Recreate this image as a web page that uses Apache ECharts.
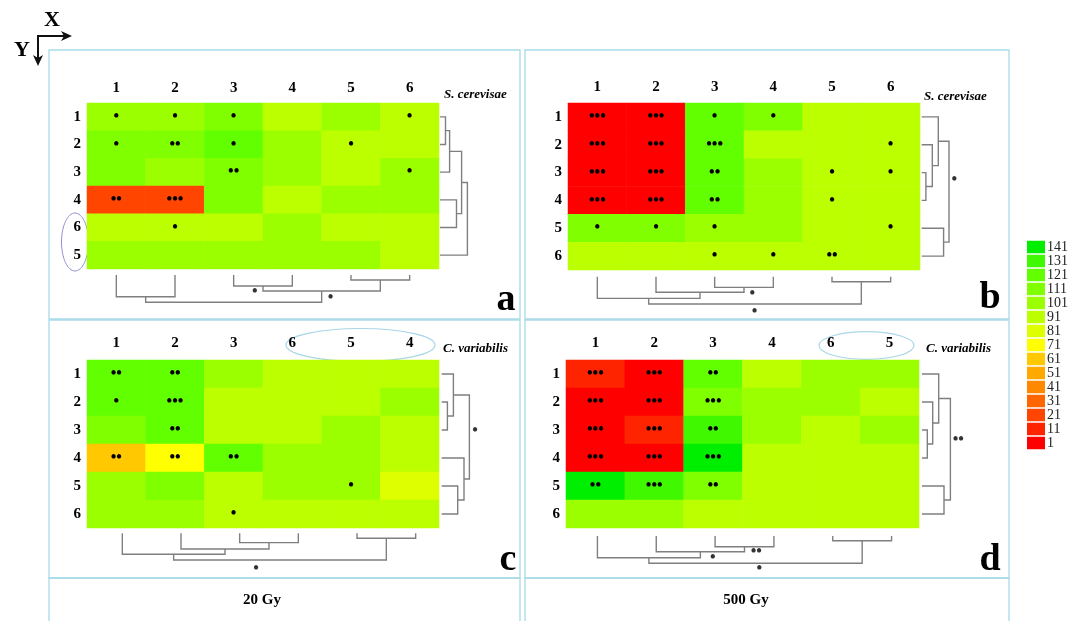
<!DOCTYPE html>
<html><head><meta charset="utf-8">
<script src="https://cdn.jsdelivr.net/npm/echarts@6/dist/echarts.min.js"></script>
<style>html,body{margin:0;padding:0;background:#fff}#c{width:1077px;height:621px}</style>
</head><body><div id="c"></div>
<script>
// ---------- DATA ----------
const legendLevels = [1, 11, 21, 31, 41, 51, 61, 71, 81, 91, 101, 111, 121, 131, 141];
const legendColors = ['#ff0000','#ff2400','#ff4500','#ff6600','#ff8800','#ffa800','#ffc800','#ffff00','#ddff00','#bbff00','#9cff00','#80ff00','#62ff00','#40f800','#00ee00'];
const dotText = ['', '\u2022', '\u2022\u2022', '\u2022\u2022\u2022'];

// Panel a: S. cerevisae, 20 Gy
const aCols = ['1','2','3','4','5','6'];
const aRows = ['1','2','3','4','6','5'];
const aValues = [
  [105,105,115, 96,105, 96],
  [115,115,125,105, 96, 96],
  [115,105,115,105, 96,105],
  [ 25, 25,115, 96,105,105],
  [ 96, 96, 96,105, 96, 96],
  [105,105,105,105,105, 96]
];
const aSig = [
  [1,1,1,0,0,1],
  [1,2,1,0,1,0],
  [0,0,2,0,0,1],
  [2,3,0,0,0,0],
  [0,1,0,0,0,0],
  [0,0,0,0,0,0]
];
const aColTree = [[4,5,5],[2,3,11],['n1','n0',16],[0,1,21.7],['n3','n2',27.3]];
const aRowTree = [[0,1,5.5],['n0',2,9.6],[3,4,16.5],['n1','n2',21.6],['n3',5,27.4]];
const aColMarks = [[2.36,16.7,'\u2022'],[3.65,22.7,'\u2022']];
const aRowMarks = [];

// Panel b: S. cerevisae, 500 Gy
const bCols = ['1','2','3','4','5','6'];
const bRows = ['1','2','3','4','5','6'];
const bValues = [
  [  5,  5,125,115, 96, 96],
  [  5,  5,125, 96, 96, 96],
  [  5,  5,125,105, 96, 96],
  [  5,  5,125,105, 96, 96],
  [115,115,105,105, 96, 96],
  [ 96, 96, 96, 96, 96, 96]
];
const bSig = [
  [3,3,1,1,0,0],
  [3,3,3,0,0,1],
  [3,3,2,0,1,1],
  [3,3,2,0,1,0],
  [1,1,1,0,0,1],
  [0,0,1,1,2,0]
];
const bColTree = [[4,5,5],[2,3,10.7],[1,'n1',15.6],[0,'n2',21.7],['n3','n0',27.3]];
const bRowTree = [[2,3,4.2],[1,'n0',10.6],[0,'n1',16.6],[4,5,21.9],['n2','n3',27.3]];
const bColMarks = [[2.64,17.3,'\u2022'],[2.68,35,'\u2022']];
const bRowMarks = [[32.6,2.27,'\u2022']];

// Panel c: C. variabilis, 20 Gy
const cCols = ['1','2','3','6','5','4'];
const cRows = ['1','2','3','4','5','6'];
const cValues = [
  [125,125,105, 96, 96, 96],
  [125,125, 96, 96, 96,105],
  [115,125, 96, 96,105, 96],
  [ 65, 75,125,105,105, 96],
  [105,115, 96,105,105, 85],
  [105,105, 96, 96, 96, 96]
];
const cSig = [
  [2,2,0,0,0,0],
  [1,3,0,0,0,0],
  [0,2,0,0,0,0],
  [2,2,2,0,0,0],
  [0,0,0,0,1,0],
  [0,0,1,0,0,0]
];
const cColTree = [[2,3,9.3],[4,5,5],[1,'n0',15.7],[0,'n2',21],['n3','n1',26.7]];
const cRowTree = [[1,2,5.7],[0,'n0',11.7],[4,5,16],[3,'n2',22.3],['n1','n3',27.7]];
const cColMarks = [[2.28,35.7,'\u2022']];
const cRowMarks = [[33.3,2.02,'\u2022']];

// Panel d: C. variabilis, 500 Gy
const dCols = ['1','2','3','4','6','5'];
const dRows = ['1','2','3','4','5','6'];
const dValues = [
  [ 15,  5,125, 96,105,105],
  [  5,  5,115,105,105, 96],
  [  5, 15,135,105, 96,105],
  [  5,  5,145, 96, 96, 96],
  [145,135,115, 96, 96, 96],
  [105,105, 96, 96, 96, 96]
];
const dSig = [
  [3,3,2,0,0,0],
  [3,3,3,0,0,0],
  [3,3,2,0,0,0],
  [3,3,3,0,0,0],
  [2,3,2,0,0,0],
  [0,0,0,0,0,0]
];
const dColTree = [[2,3,10.7],[4,5,4.7],[1,'n0',15.7],[0,'n2',21.7],['n3','n1',27.3]];
const dRowTree = [[2,3,5.3],[1,'n0',10.7],[0,'n1',16.7],[4,5,22],['n2','n3',28.4]];
const dColMarks = [[2.7,15.7,'\u2022\u2022'],[1.96,21.7,'\u2022'],[2.75,33.3,'\u2022']];
const dRowMarks = [[36.3,2.36,'\u2022\u2022']];

const speciesNames = ['S. cerevisae','S. cerevisae','C. variabilis','C. variabilis'];
const panelLetters = ['a','b','c','d'];
const doseLabels = ['20 Gy','500 Gy'];

// ---------- LAYOUT / STYLE ----------
const SERIF = 'Liberation Serif';
const panels = [
  {cols:aCols, rows:aRows, values:aValues, sig:aSig, colTree:aColTree, rowTree:aRowTree, colMarks:aColMarks, rowMarks:aRowMarks},
  {cols:bCols, rows:bRows, values:bValues, sig:bSig, colTree:bColTree, rowTree:bRowTree, colMarks:bColMarks, rowMarks:bRowMarks},
  {cols:cCols, rows:cRows, values:cValues, sig:cSig, colTree:cColTree, rowTree:cRowTree, colMarks:cColMarks, rowMarks:cRowMarks},
  {cols:dCols, rows:dRows, values:dValues, sig:dSig, colTree:dColTree, rowTree:dRowTree, colMarks:dColMarks, rowMarks:dRowMarks}
];
const layout = [
  {hm:[87,103,352,166], colD:[87,275,352],  rowD:[440,103,166],   colM:7,  species:[444,95],  letter:[506,300]},
  {hm:[568,103,352,167],colD:[568,276.7,352],rowD:[921.7,103,167],colM:8,  species:[924,97],  letter:[990,298]},
  {hm:[87,360,352,168], colD:[93,533.3,352], rowD:[441.7,360,168], colM:9.5, species:[443,349], letter:[508,560]},
  {hm:[566,360,353,168],colD:[568,536,353],  rowD:[922,360,168],   colM:9.5, species:[926,349], letter:[990,560]}
];
const D_EXT = 40;
const lineStyle = {color:'#7f7f7f', width:1.4, opacity:1};

function treeSegments(tree) {
  const pos = {}, ht = {};
  const P = c => typeof c === 'number' ? c : pos[c];
  const H = c => typeof c === 'number' ? 0 : ht[c];
  const segs = [];
  tree.forEach((m, i) => {
    const [a, b, h] = m;
    segs.push([[P(a), H(a)], [P(a), h], [P(b), h], [P(b), H(b)]]);
    pos['n' + i] = (P(a) + P(b)) / 2;
    ht['n' + i] = h;
  });
  return segs;
}

const option = {animation:false, grid:[], xAxis:[], yAxis:[], series:[]};
const heatIdx = [];
const markLabel = {show:true, position:'inside', color:'#000', fontFamily:SERIF, fontWeight:'bold', fontSize:16};

panels.forEach((p, k) => {
  const L = layout[k];
  let gi = option.grid.length;
  option.grid.push({left:L.hm[0], top:L.hm[1], width:L.hm[2], height:L.hm[3]});
  option.xAxis.push({type:'category', gridIndex:gi, data:p.cols, position:'top',
    axisLine:{show:false}, axisTick:{show:false}, splitLine:{show:false},
    axisLabel:{margin:L.colM, color:'#000', fontFamily:SERIF, fontWeight:'bold', fontSize:15}});
  option.yAxis.push({type:'category', gridIndex:gi, data:p.rows, inverse:true,
    axisLine:{show:false}, axisTick:{show:false}, splitLine:{show:false},
    axisLabel:{margin:6, color:'#000', fontFamily:SERIF, fontWeight:'bold', fontSize:15}});
  const data = [];
  p.values.forEach((row, r) => row.forEach((v, c) => data.push([c, r, v, p.sig[r][c]])));
  heatIdx.push(option.series.length);
  option.series.push({type:'heatmap', xAxisIndex:gi, yAxisIndex:gi, data:data,
    itemStyle:{borderWidth:0}, emphasis:{disabled:true},
    label:{show:true, formatter:q => dotText[q.data[3]], color:'#000', fontFamily:SERIF, fontWeight:'bold', fontSize:16}});

  // bottom (column) dendrogram
  gi = option.grid.length;
  option.grid.push({left:L.colD[0], top:L.colD[1], width:L.colD[2], height:D_EXT});
  option.xAxis.push({type:'value', gridIndex:gi, min:-0.5, max:5.5, show:false});
  option.yAxis.push({type:'value', gridIndex:gi, min:0, max:D_EXT, inverse:true, show:false});
  option.series.push({type:'lines', coordinateSystem:'cartesian2d', xAxisIndex:gi, yAxisIndex:gi, polyline:true, silent:true,
    data:treeSegments(p.colTree).map(s => ({coords:s})), lineStyle:lineStyle});
  option.series.push({type:'scatter', xAxisIndex:gi, yAxisIndex:gi, symbolSize:0.1, itemStyle:{color:'transparent'}, silent:true,
    data:p.colMarks.map(m => [m[0], m[1], m[2]]), label:Object.assign({formatter:q => q.data[2]}, markLabel)});

  // right (row) dendrogram
  gi = option.grid.length;
  option.grid.push({left:L.rowD[0], top:L.rowD[1], width:D_EXT, height:L.rowD[2]});
  option.xAxis.push({type:'value', gridIndex:gi, min:0, max:D_EXT, show:false});
  option.yAxis.push({type:'value', gridIndex:gi, min:-0.5, max:5.5, inverse:true, show:false});
  option.series.push({type:'lines', coordinateSystem:'cartesian2d', xAxisIndex:gi, yAxisIndex:gi, polyline:true, silent:true,
    data:treeSegments(p.rowTree).map(s => ({coords:s.map(pt => [pt[1], pt[0]])})), lineStyle:lineStyle});
  option.series.push({type:'scatter', xAxisIndex:gi, yAxisIndex:gi, symbolSize:0.1, itemStyle:{color:'transparent'}, silent:true,
    data:p.rowMarks.map(m => [m[0], m[1], m[2]]), label:Object.assign({formatter:q => q.data[2]}, markLabel)});
});

option.visualMap = {
  type:'piecewise', seriesIndex:heatIdx, dimension:2, orient:'vertical', left:1027, top:240, padding:0,
  itemWidth:18, itemHeight:12.5, itemGap:0, itemSymbol:'rect', textGap:2, align:'left',
  selectedMode:false, hoverLink:false,
  pieces:legendLevels.map((lv, i) => ({gte:lv, lt:lv + 10, label:String(lv), color:legendColors[i]})),
  textStyle:{fontFamily:SERIF, fontSize:14, color:'#222'}
};

const boxColor = '#a9dbe9';
function rect(x, y, w, h) {
  return {type:'rect', shape:{x:x, y:y, width:w, height:h}, style:{fill:'none', stroke:boxColor, lineWidth:1.3}, silent:true};
}
function txt(t, x, y, font, align) {
  return {type:'text', style:{text:t, x:x, y:y, font:font, fill:'#000', textAlign:align || 'center', align:align || 'center', textVerticalAlign:'middle', verticalAlign:'middle'}, silent:true};
}
const g = [
  rect(49, 50, 471, 269), rect(525, 50, 484, 269),
  rect(49, 320, 471, 258), rect(525, 320, 484, 258),
  rect(49, 578, 471, 60), rect(525, 578, 484, 60),
  {type:'ellipse', shape:{cx:75, cy:242, rx:13.5, ry:29}, style:{fill:'none', stroke:'#8f8fcf', lineWidth:1}, silent:true},
  {type:'ellipse', shape:{cx:360.5, cy:345, rx:74.5, ry:16.5}, style:{fill:'none', stroke:'#a9d6e8', lineWidth:1.2}, silent:true},
  {type:'ellipse', shape:{cx:866.5, cy:345.5, rx:47.5, ry:13.8}, style:{fill:'none', stroke:'#a9d6e8', lineWidth:1.2}, silent:true},
  // axis indicator
  {type:'polyline', shape:{points:[[38,63],[38,36],[69,36]]}, style:{fill:'none', stroke:'#111', lineWidth:2}, silent:true},
  {type:'polygon', shape:{points:[[72,36],[61,31],[64,36],[61,41]]}, style:{fill:'#111'}, silent:true},
  {type:'polygon', shape:{points:[[38,66],[33,55],[38,58],[43,55]]}, style:{fill:'#111'}, silent:true},
  txt('X', 52, 20, 'bold 22px "Liberation Serif"'),
  txt('Y', 22, 50, 'bold 22px "Liberation Serif"'),
  txt(doseLabels[0], 262, 600, 'bold 15px "Liberation Serif"'),
  txt(doseLabels[1], 746, 600, 'bold 15px "Liberation Serif"')
];
layout.forEach((L, k) => {
  g.push(txt(speciesNames[k], L.species[0], L.species[1], 'italic bold 13px "Liberation Serif"', 'left'));
  g.push(txt(panelLetters[k], L.letter[0], L.letter[1], 'bold 38px "Liberation Serif"'));
});
option.graphic = {elements:g};

const chart = echarts.init(document.getElementById('c'), null, {renderer:'canvas'});
chart.setOption(option);
</script></body></html>
